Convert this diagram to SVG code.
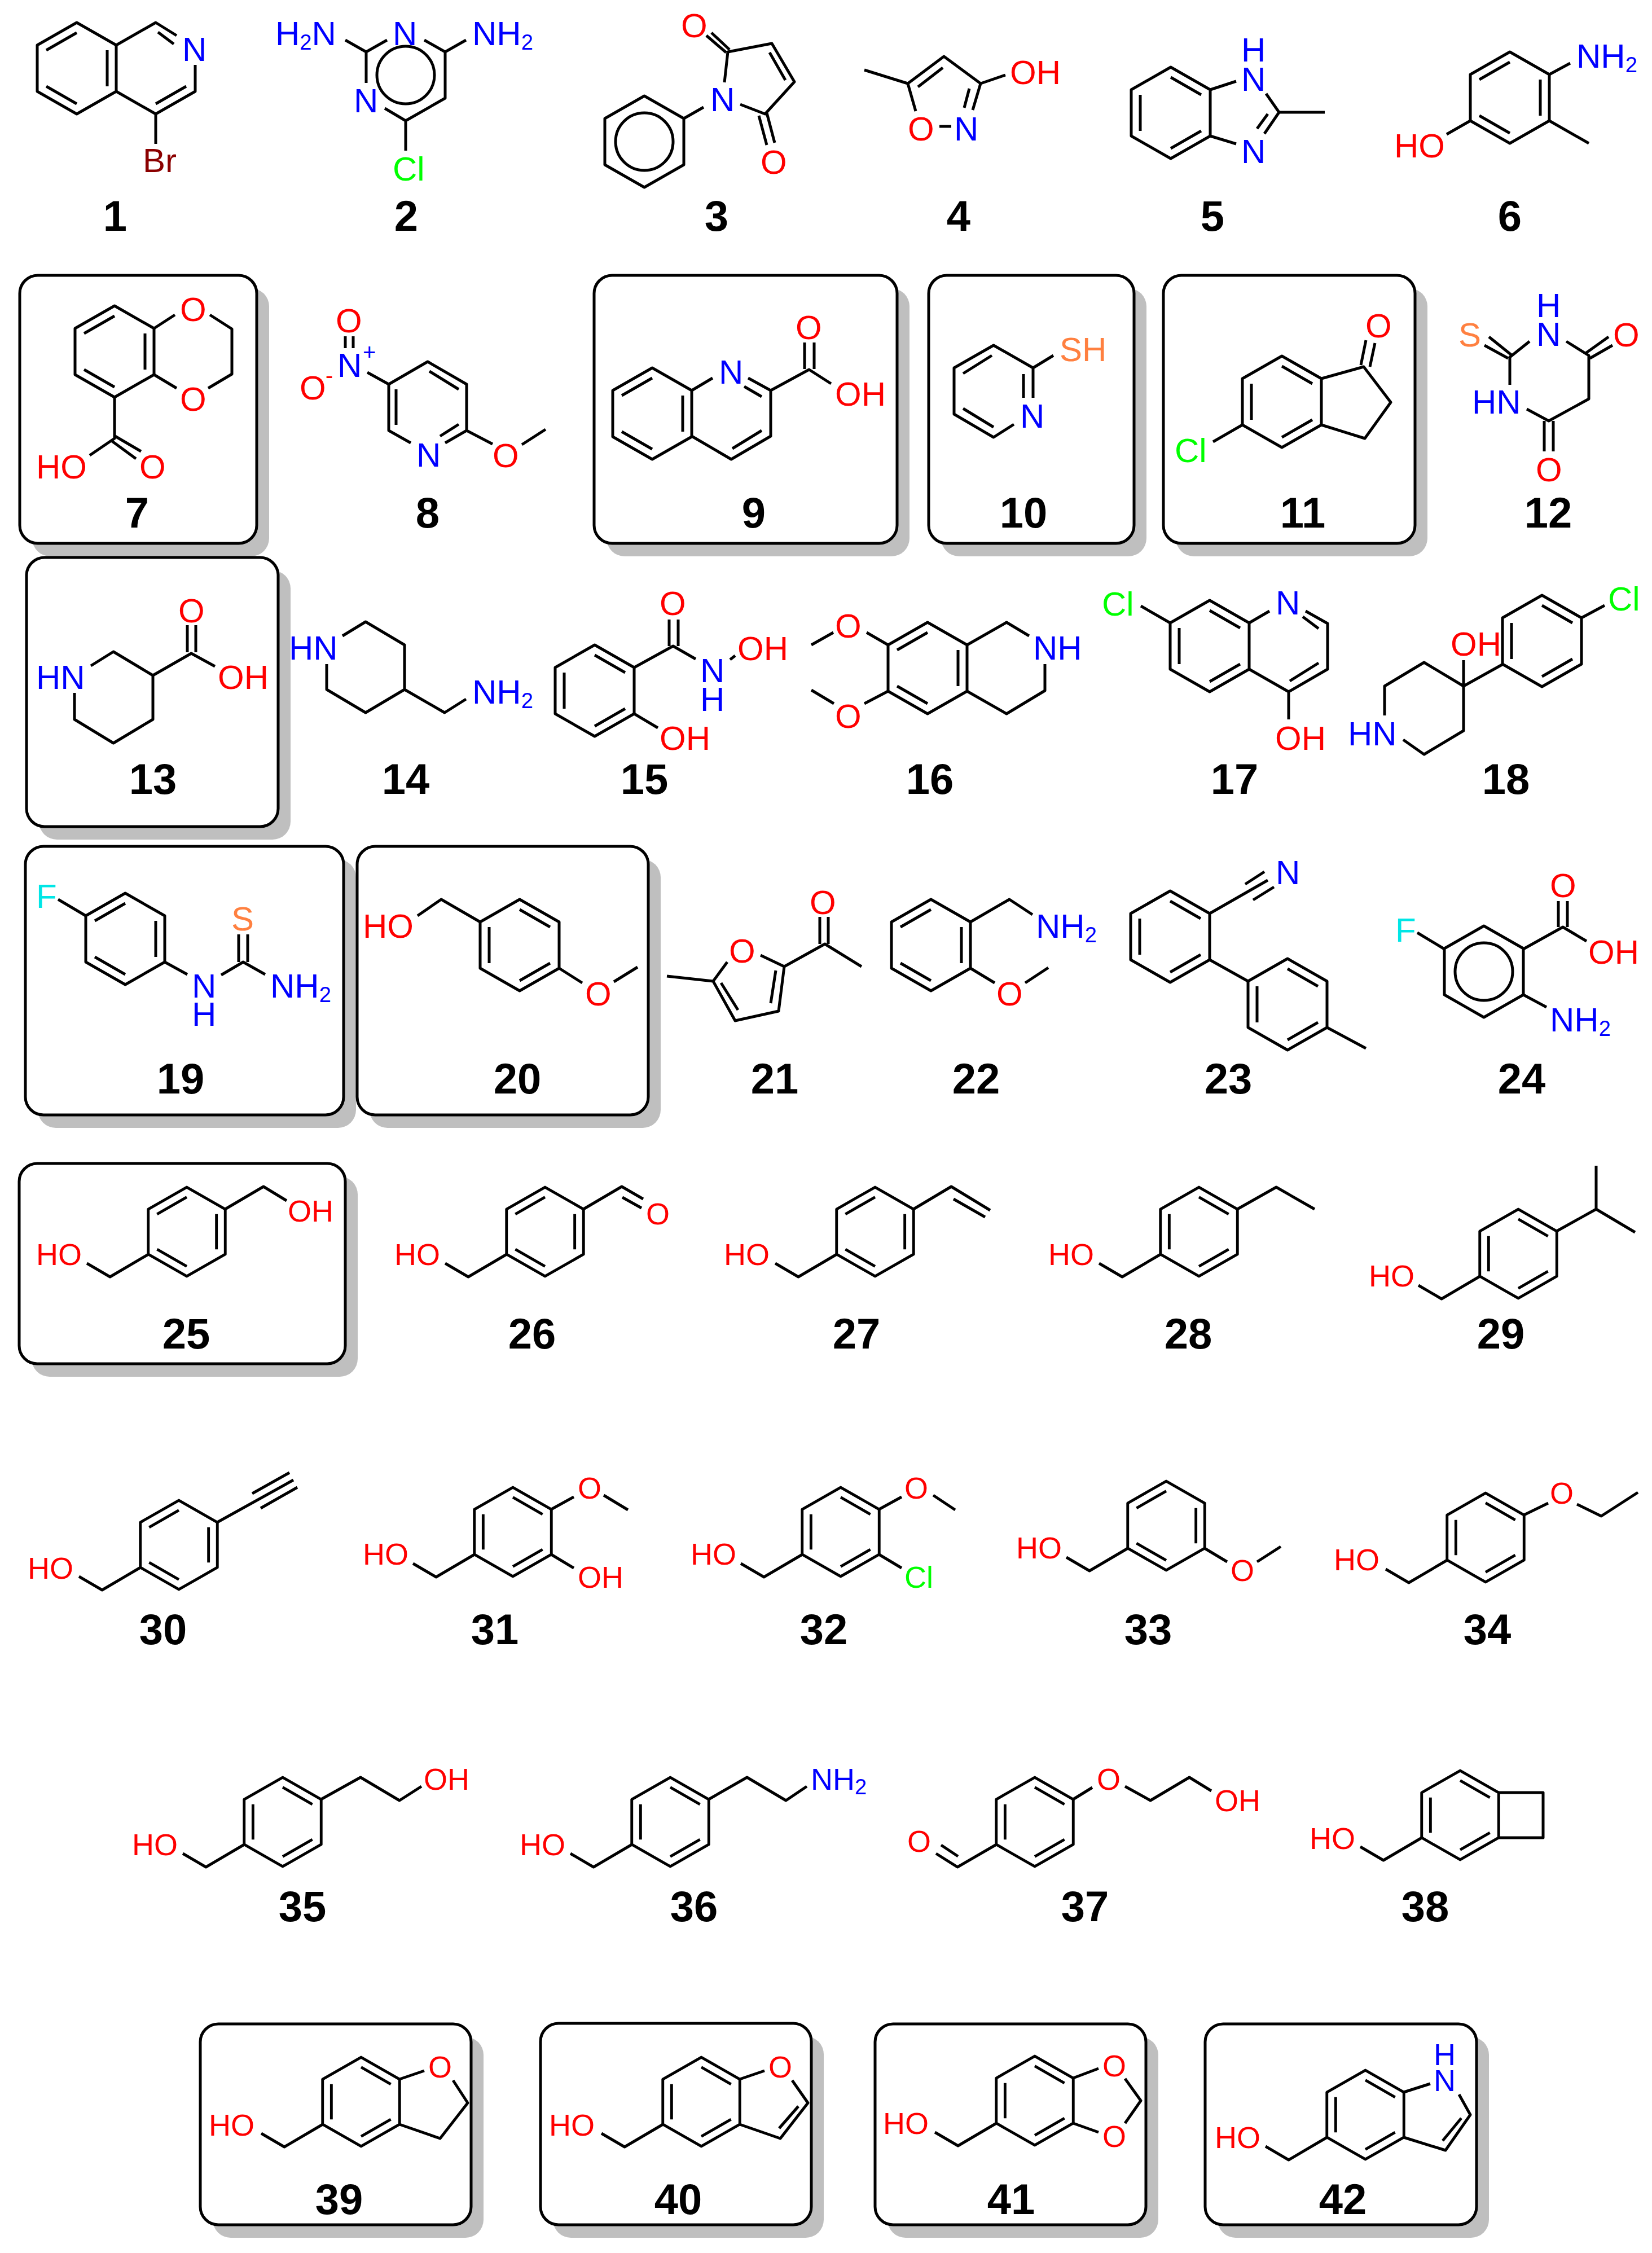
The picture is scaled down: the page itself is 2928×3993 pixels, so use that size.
<svg xmlns="http://www.w3.org/2000/svg" width="2928" height="3993" viewBox="0 0 2928 3993">
<style>
path,use,circle{fill:none;stroke:#000;stroke-width:5;stroke-linejoin:round}
.sh{fill:#bfbfbf;stroke:none}
.bx{fill:#fff;stroke:#000;stroke-width:5}
text{font-family:"Liberation Sans",Arial,sans-serif;font-size:60px}
.k{font-size:54px}
.s{font-size:38px}
.c{font-size:40px}
.l{font-size:76px;font-weight:bold;text-anchor:middle;fill:#000}
.N{fill:#00f}.O{fill:#f00}.G{fill:#0f0}.S{fill:#ff8040}.F{fill:#00e6e6}.B{fill:#8b0000}
</style>
<defs>
<path id="h" d="M0-81L70-41V41L0 81L-70 41V-41Z"/>
<path id="a" d="M0-81L70-41V41L0 81L-70 41V-41ZM-54-32L0-63M54-32V32M0 63L-54 32"/>
<path id="b" d="M0-81L70-41V41L0 81L-70 41V-41ZM0-63L54-32M54 32L0 63M-54 32V-32"/>
</defs>
<rect width="2928" height="3993" fill="#fff"/>
<g id="boxes">
<rect class="sh" x="57" y="511" width="420" height="475" rx="32"/><rect class="bx" x="35" y="488" width="420" height="475" rx="32"/>
<rect class="sh" x="1075" y="511" width="537" height="475" rx="32"/><rect class="bx" x="1053" y="488" width="537" height="475" rx="32"/>
<rect class="sh" x="1668" y="511" width="364" height="475" rx="32"/><rect class="bx" x="1646" y="488" width="364" height="475" rx="32"/>
<rect class="sh" x="2084" y="511" width="446" height="475" rx="32"/><rect class="bx" x="2062" y="488" width="446" height="475" rx="32"/>
<rect class="sh" x="69" y="1011" width="446" height="477" rx="32"/><rect class="bx" x="47" y="988" width="446" height="477" rx="32"/>
<rect class="sh" x="67" y="1523" width="564" height="476" rx="32"/><rect class="bx" x="45" y="1500" width="564" height="476" rx="32"/>
<rect class="sh" x="655" y="1523" width="516" height="476" rx="32"/><rect class="bx" x="633" y="1500" width="516" height="476" rx="32"/>
<rect class="sh" x="56" y="2085" width="578" height="355" rx="32"/><rect class="bx" x="34" y="2062" width="578" height="355" rx="32"/>
<rect class="sh" x="377" y="3610" width="480" height="356" rx="32"/><rect class="bx" x="355" y="3587" width="480" height="356" rx="32"/>
<rect class="sh" x="980" y="3609" width="480" height="357" rx="32"/><rect class="bx" x="958" y="3586" width="480" height="357" rx="32"/>
<rect class="sh" x="1573" y="3610" width="480" height="356" rx="32"/><rect class="bx" x="1551" y="3587" width="480" height="356" rx="32"/>
<rect class="sh" x="2158" y="3610" width="481" height="356" rx="32"/><rect class="bx" x="2136" y="3587" width="481" height="356" rx="32"/>
</g>
<g id="m1"><use href="#a" x="136" y="121"/><path d="M206 80L276 40L313 63M280 57L308 78M346 115V162L276 202L206 162M330 153L276 184M276 202V255"/><text class="N" x="323" y="108">N</text><text class="B" x="253" y="305">Br</text><text class="l" x="204" y="409">1</text></g>
<g id="m2"><circle cx="719" cy="133" r="51"/><path d="M649 92L612 71M649 92V147M649 92L686 71M752 71L789 92V174L719 214L682 192M789 92L826 71M719 214V267"/><text class="N" x="488" y="80">H<tspan class="s" dy="8">2</tspan><tspan dy="-8">N</tspan></text><text class="N" x="696" y="80">N</text><text class="N" x="837" y="80">NH<tspan class="s" dy="8">2</tspan></text><text class="N" x="627" y="199">N</text><text class="G" x="696" y="320">Cl</text><text class="l" x="720" y="409">2</text></g>
<g id="m3"><use href="#h" x="1142" y="251"/><circle cx="1142" cy="251" r="51"/><path d="M1212 210L1247 190M1284 146L1290 92L1368 77L1408 145L1356 202L1312 185M1364 93L1392 142M1261 58L1293 88M1252 63L1287 93M1345 205L1359 257M1359 200L1373 253"/><text class="N" x="1259" y="197">N</text><text class="O" x="1207" y="66">O</text><text class="O" x="1348" y="308">O</text><text class="l" x="1270" y="409">3</text></g>
<g id="m4"><path d="M1532 124L1609 148L1673 100L1738 148L1724 195M1609 148L1623 197M1627 154L1671 120M1718 157L1709 191M1738 148L1782 133M1665 224H1686"/><text class="O" x="1609" y="249">O</text><text class="N" x="1691" y="249">N</text><text class="O" x="1790" y="149">OH</text><text class="l" x="1699" y="409">4</text></g>
<g id="m5"><use href="#b" x="2075" y="200"/><path d="M2145 159L2191 144M2145 241L2191 255M2244 166L2267 199L2241 237M2247 202L2228 228M2267 199H2348"/><text class="N" x="2200" y="109">H</text><text class="N" x="2200" y="161">N</text><text class="N" x="2200" y="289">N</text><text class="l" x="2149" y="409">5</text></g>
<g id="m6"><use href="#a" x="2676" y="173"/><path d="M2746 132L2783 112M2606 214L2564 238M2746 214L2816 254"/><text class="N" x="2794" y="120">NH<tspan class="s" dy="8">2</tspan></text><text class="O" x="2471" y="279">HO</text><text class="l" x="2676" y="409">6</text></g>
<g id="m7"><use href="#a" x="203" y="623"/><path d="M273 582L310 558M372 558L411 583V663L369 688M273 664L313 688M203 704V777L159 807M204 773L250 800M196 780L241 813"/><text class="O" x="319" y="569">O</text><text class="O" x="319" y="728">O</text><text class="O" x="64" y="848">HO</text><text class="O" x="247" y="848">O</text><text class="l" x="243" y="935">7</text></g>
<g id="m8"><path d="M728 785L689 763V681L758 641L827 681V763L789 785M761 658L813 690M702 690V753M780 773L813 752M651 660L689 681M612 596V617M626 596V617M827 763L873 787M925 788L967 761"/><text class="O" x="595" y="589">O</text><text class="N" x="598" y="668">N</text><text class="N c" x="643" y="638">+</text><text class="O" x="531" y="708">O</text><text class="O c" x="577" y="679">-</text><text class="N" x="738" y="827">N</text><text class="O" x="873" y="828">O</text><text class="l" x="758" y="935">8</text></g>
<g id="m9"><use href="#a" x="1156" y="733"/><path d="M1226 692L1263 670M1326 670L1366 692V773L1296 814L1226 773M1319 685L1350 703M1350 763L1298 795M1366 692L1434 655L1473 680M1426 607V654M1443 607V654"/><text class="N" x="1274" y="680">N</text><text class="O" x="1410" y="601">O</text><text class="O" x="1480" y="719">OH</text><text class="l" x="1336" y="935">9</text></g>
<g id="m10"><path d="M1831 652V705M1814 663V705M1831 652L1761 612L1691 652V734L1761 775L1797 752M1707 662L1758 630M1707 724L1761 757M1831 652L1867 630"/><text class="S" x="1878" y="640">SH</text><text class="N" x="1808" y="758">N</text><text class="l" x="1814" y="935">10</text></g>
<g id="m11"><use href="#b" x="2272" y="712"/><path d="M2342 671L2417 650L2465 713L2419 777L2342 753M2412 647L2421 603M2428 650L2437 608M2202 753L2150 783"/><text class="O" x="2420" y="598">O</text><text class="G" x="2082" y="819">Cl</text><text class="l" x="2309" y="935">11</text></g>
<g id="m12"><path d="M2676 682V633L2711 605M2776 605L2816 630V707L2745 746L2706 725M2639 597L2680 630M2631 612L2673 635M2851 597L2809 627M2858 612L2818 635M2737 746V800M2753 746V800"/><text class="N" x="2723" y="562">H</text><text class="N" x="2723" y="613">N</text><text class="S" x="2585" y="614">S</text><text class="O" x="2859" y="614">O</text><text class="N" x="2609" y="733">HN</text><text class="O" x="2722" y="853">O</text><text class="l" x="2744" y="935">12</text></g>
<g id="m13"><path d="M161 1180L201 1155L271 1197L339 1158L381 1181M271 1197V1275L201 1317L132 1275V1228M332 1108V1156M347 1108V1156"/><text class="N" x="64" y="1221">HN</text><text class="O" x="316" y="1103">O</text><text class="O" x="386" y="1221">OH</text><text class="l" x="271" y="1407">13</text></g>
<g id="m14"><path d="M607 1127L648 1102L717 1143V1222L648 1263L579 1222V1177M717 1222L788 1263L826 1239"/><text class="N" x="512" y="1169">HN</text><text class="N" x="837" y="1247">NH<tspan class="s" dy="8">2</tspan></text><text class="l" x="719" y="1407">14</text></g>
<g id="m15"><use href="#b" x="1054" y="1224"/><path d="M1124 1183L1193 1145L1233 1168M1186 1098V1145M1202 1098V1145M1294 1169L1303 1162M1124 1265L1166 1290"/><text class="O" x="1169" y="1090">O</text><text class="N" x="1241" y="1209">N</text><text class="N" x="1241" y="1260">H</text><text class="O" x="1307" y="1170">OH</text><text class="O" x="1169" y="1329">OH</text><text class="l" x="1142" y="1407">15</text></g>
<g id="m16"><use href="#a" x="1644" y="1184"/><path d="M1714 1143L1784 1103L1824 1127M1852 1177V1224L1784 1265L1714 1225M1574 1143L1536 1121M1574 1225L1532 1247M1438 1143L1477 1121M1438 1223L1478 1247"/><text class="O" x="1480" y="1130">O</text><text class="O" x="1480" y="1290">O</text><text class="N" x="1831" y="1169">NH</text><text class="l" x="1648" y="1407">16</text></g>
<g id="m17"><use href="#b" x="2144" y="1145"/><path d="M2214 1104L2250 1083M2314 1083L2353 1105V1186L2284 1226L2214 1186M2309 1093L2337 1114M2337 1175L2286 1207M2074 1104L2022 1074M2284 1226V1275"/><text class="G" x="1953" y="1091">Cl</text><text class="N" x="2261" y="1089">N</text><text class="O" x="2260" y="1329">OH</text><text class="l" x="2188" y="1407">17</text></g>
<g id="m18"><path d="M2594 1170V1295L2524 1337L2487 1311M2454 1268V1216L2524 1174L2594 1216L2664 1177"/><use href="#b" x="2733" y="1136"/><path d="M2803 1095L2844 1073"/><text class="O" x="2571" y="1162">OH</text><text class="G" x="2850" y="1082">Cl</text><text class="N" x="2389" y="1321">HN</text><text class="l" x="2669" y="1407">18</text></g>
<g id="m19"><use href="#a" x="222" y="1664"/><path d="M152 1623L103 1594M292 1705L332 1727M392 1728L431 1705L470 1727M423 1656V1705M439 1656V1705"/><text class="F" x="64" y="1609">F</text><text class="S" x="410" y="1649">S</text><text class="N" x="340" y="1768">N</text><text class="N" x="340" y="1818">H</text><text class="N" x="479" y="1768">NH<tspan class="s" dy="8">2</tspan></text><text class="l" x="320" y="1938">19</text></g>
<g id="m20"><use href="#b" x="921" y="1675"/><path d="M851 1634L782 1594L740 1623M991 1716L1032 1742M1088 1740L1130 1714"/><text class="O" x="643" y="1662">HO</text><text class="O" x="1037" y="1782">O</text><text class="l" x="917" y="1938">20</text></g>
<g id="m21"><path d="M1182 1730L1264 1739L1289 1705M1348 1693L1390 1713L1380 1792L1303 1809L1264 1739M1375 1720L1366 1778M1308 1790L1278 1742M1390 1713L1462 1673L1527 1713M1453 1625V1673M1468 1625V1673"/><text class="O" x="1292" y="1706">O</text><text class="O" x="1435" y="1620">O</text><text class="l" x="1373" y="1938">21</text></g>
<g id="m22"><use href="#a" x="1650" y="1675"/><path d="M1720 1634L1789 1594L1830 1621M1720 1716L1763 1742M1817 1742L1858 1715"/><text class="N" x="1836" y="1662">NH<tspan class="s" dy="8">2</tspan></text><text class="O" x="1766" y="1782">O</text><text class="l" x="1730" y="1938">22</text></g>
<g id="m23"><use href="#b" x="2074" y="1660"/><use href="#b" x="2282" y="1780"/><path d="M2144 1619L2247 1560M2207 1567L2241 1545M2221 1595L2258 1572M2144 1701L2212 1739M2352 1821L2421 1858"/><text class="N" x="2261" y="1567">N</text><text class="l" x="2177" y="1938">23</text></g>
<g id="m24"><use href="#h" x="2630" y="1722"/><circle cx="2630" cy="1722" r="51"/><path d="M2560 1682L2512 1653M2700 1682L2770 1643L2812 1668M2762 1597V1643M2778 1597V1643M2700 1763L2741 1785"/><text class="F" x="2473" y="1669">F</text><text class="O" x="2747" y="1590">O</text><text class="O" x="2815" y="1708">OH</text><text class="N" x="2747" y="1828">NH<tspan class="s" dy="8">2</tspan></text><text class="l" x="2697" y="1938">24</text></g>
<g id="m25"><use href="#a" transform="translate(331 2183) scale(.975)"/><path d="M263 2223l-68 40l-41-24M399 2143L467 2103L508 2128"/><text class="O k" x="64" y="2242">HO</text><text class="O k" x="510" y="2165">OH</text><text class="l" x="330" y="2390">25</text></g>
<g id="m26"><use href="#a" transform="translate(966 2183) scale(.975)"/><path d="M898 2223l-68 40l-41-24M1034 2143L1102 2103L1140 2125M1103 2122L1137 2141"/><text class="O k" x="699" y="2242">HO</text><text class="O k" x="1145" y="2170">O</text><text class="l" x="943" y="2390">26</text></g>
<g id="m27"><use href="#a" transform="translate(1551 2183) scale(.975)"/><path d="M1483 2223l-68 40l-41-24M1619 2143L1686 2103L1755 2145M1690 2125L1746 2157"/><text class="O k" x="1283" y="2242">HO</text><text class="l" x="1518" y="2390">27</text></g>
<g id="m28"><use href="#b" transform="translate(2125 2183) scale(.975)"/><path d="M2057 2223l-68 40l-41-24M2193 2143L2262 2104L2330 2143"/><text class="O k" x="1858" y="2242">HO</text><text class="l" x="2106" y="2390">28</text></g>
<g id="m29"><use href="#b" transform="translate(2691 2222) scale(.975)"/><path d="M2623 2262l-68 40l-41-24M2759 2182L2829 2143V2066M2829 2143L2898 2184"/><text class="O k" x="2426" y="2280">HO</text><text class="l" x="2660" y="2390">29</text></g>
<g id="m30"><use href="#a" transform="translate(317 2738) scale(.975)"/><path d="M249 2778l-68 40l-41-24M385 2698L520 2623M447 2647L513 2610M462 2673L527 2636"/><text class="O k" x="49" y="2798">HO</text><text class="l" x="289" y="2914">30</text></g>
<g id="m31"><use href="#b" transform="translate(909 2715) scale(.975)"/><path d="M841 2755l-68 40l-41-24M977 2675L1017 2653M1070 2650L1113 2676M977 2755L1017 2779"/><text class="O k" x="643" y="2773">HO</text><text class="O k" x="1024" y="2656">O</text><text class="O k" x="1024" y="2814">OH</text><text class="l" x="877" y="2914">31</text></g>
<g id="m32"><use href="#b" transform="translate(1490 2715) scale(.975)"/><path d="M1422 2755l-68 40l-41-24M1558 2675L1598 2653M1654 2650L1693 2676M1558 2755L1598 2779"/><text class="O k" x="1224" y="2773">HO</text><text class="O k" x="1603" y="2656">O</text><text class="G k" x="1603" y="2814">Cl</text><text class="l" x="1460" y="2914">32</text></g>
<g id="m33"><use href="#a" transform="translate(2067 2704) scale(.975)"/><path d="M1999 2744l-68 40l-41-24M2135 2744L2175 2768M2228 2768L2270 2741"/><text class="O k" x="1801" y="2762">HO</text><text class="O k" x="2181" y="2802">O</text><text class="l" x="2035" y="2914">33</text></g>
<g id="m34"><use href="#b" transform="translate(2633 2725) scale(.975)"/><path d="M2565 2765l-68 40l-41-24M2701 2685L2744 2664M2795 2666L2838 2687L2903 2645"/><text class="O k" x="2364" y="2783">HO</text><text class="O k" x="2747" y="2665">O</text><text class="l" x="2636" y="2914">34</text></g>
<g id="m35"><use href="#b" transform="translate(501 3229) scale(.975)"/><path d="M433 3269l-68 40l-41-24M569 3189L639 3150L708 3191L747 3166"/><text class="O k" x="234" y="3288">HO</text><text class="O k" x="751" y="3172">OH</text><text class="l" x="536" y="3405">35</text></g>
<g id="m36"><use href="#b" transform="translate(1188 3229) scale(.975)"/><path d="M1120 3269l-68 40l-41-24M1256 3189L1324 3150L1393 3191L1430 3166"/><text class="O k" x="921" y="3288">HO</text><text class="N k" x="1437" y="3172">NH<tspan class="s" dy="8">2</tspan></text><text class="l" x="1230" y="3405">36</text></g>
<g id="m37"><use href="#b" transform="translate(1834 3229) scale(.975)"/><path d="M1766 3269L1697 3309L1659 3285M1698 3290L1668 3270M1902 3189L1936 3168M1994 3166L2039 3191L2108 3150L2147 3174"/><text class="O k" x="1608" y="3282">O</text><text class="O k" x="1944" y="3172">O</text><text class="O k" x="2153" y="3210">OH</text><text class="l" x="1923" y="3405">37</text></g>
<g id="m38"><use href="#b" transform="translate(2588 3217) scale(.975)"/><path d="M2520 3257l-68 40l-41-24M2656 3177H2735V3257H2656"/><text class="O k" x="2321" y="3277">HO</text><text class="l" x="2526" y="3405">38</text></g>
<g id="m39"><use href="#b" transform="translate(640 3725) scale(.975)"/><path d="M572 3765l-68 40l-41-24M708 3685L752 3670M803 3687L829 3727L780 3790L708 3765"/><text class="O k" x="370" y="3785">HO</text><text class="O k" x="759" y="3682">O</text><text class="l" x="601" y="3924">39</text></g>
<g id="m40"><use href="#b" transform="translate(1243 3725) scale(.975)"/><path d="M1175 3765l-68 40l-41-24M1311 3685L1355 3670M1404 3687L1432 3727L1383 3790L1311 3765M1415 3733L1381 3772"/><text class="O k" x="973" y="3785">HO</text><text class="O k" x="1362" y="3682">O</text><text class="l" x="1202" y="3924">40</text></g>
<g id="m41"><use href="#b" transform="translate(1834 3723) scale(.975)"/><path d="M1766 3763l-68 40l-41-24M1902 3683L1947 3666M1902 3763L1947 3779M1994 3684L2022 3723L1994 3763"/><text class="O k" x="1565" y="3782">HO</text><text class="O k" x="1954" y="3680">O</text><text class="O k" x="1954" y="3805">O</text><text class="l" x="1792" y="3924">41</text></g>
<g id="m42"><use href="#b" transform="translate(2420 3748) scale(.975)"/><path d="M2352 3788l-68 40l-41-24M2488 3708L2535 3693M2586 3712L2606 3748L2562 3811L2488 3788M2590 3754L2557 3794"/><text class="O k" x="2153" y="3807">HO</text><text class="N k" x="2541" y="3660">H</text><text class="N k" x="2541" y="3706">N</text><text class="l" x="2380" y="3924">42</text></g>
</svg>
